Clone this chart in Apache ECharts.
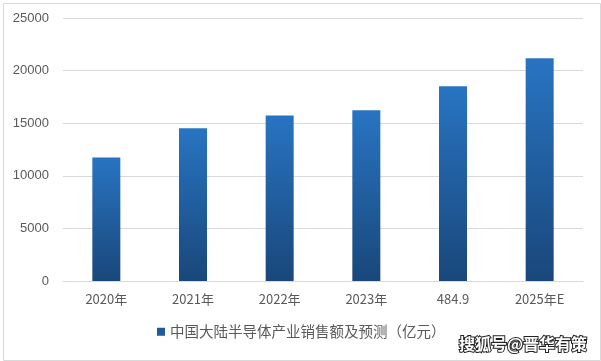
<!DOCTYPE html>
<html><head><meta charset="utf-8">
<script src="https://cdn.jsdelivr.net/npm/echarts@6/dist/echarts.min.js"></script>
<style>html,body{margin:0;padding:0;background:#fff}#c{width:601px;height:361px}</style>
</head><body><div id="c"></div>
<script>
var categories = ['2020年', '2021年', '2022年', '2023年', '484.9', '2025年E'];
var values = [11740, 14530, 15740, 16220, 18510, 21180];
var seriesName = '中国大陆半导体产业销售额及预测（亿元）';
var yTicks = [0, 5000, 10000, 15000, 20000, 25000];

var chart = echarts.init(document.getElementById('c'), null, {renderer: 'canvas'});
var grad = new echarts.graphic.LinearGradient(0, 0, 0, 1, [
  {offset: 0, color: '#2874c2'},
  {offset: 1, color: '#19477a'}
]);
chart.setOption({
  animation: false,
  backgroundColor: '#fff',
  textStyle: {fontFamily: '"Noto Sans CJK SC", "Liberation Sans", sans-serif'},
  grid: {left: 63, right: 18, top: 18, bottom: 80},
  xAxis: {
    type: 'category', data: categories,
    axisLine: {show: true, lineStyle: {color: '#d9d9d9'}},
    axisTick: {show: false},
    axisLabel: {color: '#595959', fontSize: 13, margin: 12, fontFamily: '"Noto Sans CJK SC", sans-serif'}
  },
  yAxis: {
    type: 'value', min: 0, max: yTicks[yTicks.length - 1], interval: 5000,
    axisLine: {show: false}, axisTick: {show: false},
    axisLabel: {color: '#595959', fontSize: 13, margin: 14, fontFamily: '"Liberation Sans", sans-serif',
      formatter: function (v) { return String(v); }},
    splitLine: {lineStyle: {color: '#d9d9d9'}}
  },
  legend: {
    bottom: 17, left: 152, itemWidth: 8, itemHeight: 8, itemGap: 6,
    icon: 'rect',
    textStyle: {color: '#595959', fontSize: 14.5, fontFamily: '"Noto Sans CJK SC", sans-serif'},
    data: [{name: seriesName, itemStyle: {color: '#1f5b98'}}]
  },
  series: [{
    name: seriesName, type: 'bar', data: values, barWidth: 28,
    itemStyle: {color: grad}
  }],
  graphic: [
    {type: 'rect', left: 1, top: 1, shape: {width: 597, height: 357}, style: {fill: 'none', stroke: '#d9d9d9', lineWidth: 1}, silent: true},
    {type: 'text', right: 13, top: 335, style: {text: '搜狐号@晋华有策', fill: '#fff', stroke: '#222', lineWidth: 2, font: 'bold 16px "Noto Sans CJK SC", sans-serif'}, z: 10}
  ]
});
</script></body></html>
